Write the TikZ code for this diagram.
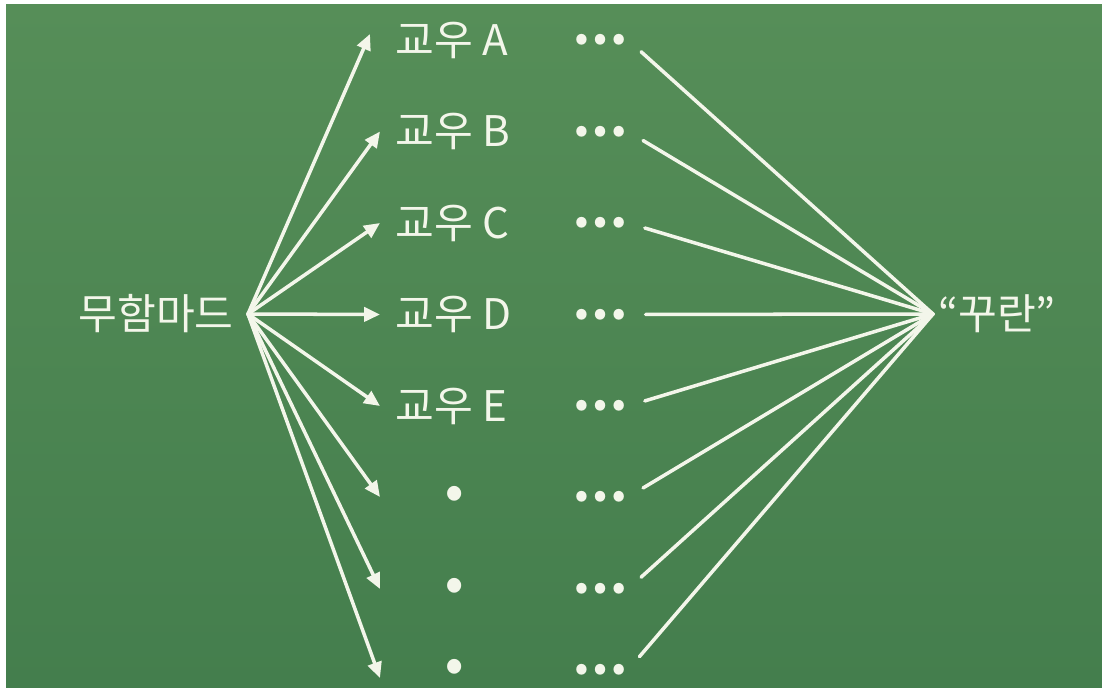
\documentclass[tikz,border=0pt]{standalone}
\usepackage{fontspec}
\newfontfamily\kofont{Noto Sans CJK KR}
\usepackage{tikz}
\usetikzlibrary{arrows.meta}
\definecolor{boardtop}{HTML}{568E58}
\definecolor{boardbot}{HTML}{447E4D}
\definecolor{chalk}{HTML}{F3F6EA}

\begin{document}
\begin{tikzpicture}[x=0.02cm, y=-0.02cm,
  every node/.style={text=chalk, font=\kofont\fontsize{24}{28}\selectfont, inner sep=0pt},
  dotsbox/.style={font=\kofont\bfseries\fontsize{28}{28}\selectfont},
  rowdot/.style={font=\kofont\bfseries\fontsize{26}{26}\selectfont},
  chalkline/.style={draw=chalk, line width=2pt, line cap=round},
  chalkarrow/.style={chalkline, -{Triangle[length=9pt, width=8pt]}}]
\fill[white] (0,0) rectangle (1102,688);
\shade[top color=boardtop, bottom color=boardbot] (6,5) rectangle (1102,688);
% left and right ends
\node[anchor=east] (src) at (234,314) {무함마드};
\coordinate (hub) at (248,314);
\node[anchor=west] (dst) at (938,314) {“꾸란”};
\coordinate (sink) at (933,314);
% named rows
\foreach \i/\lab in {1/A, 2/B, 3/C, 4/D, 5/E} {
  \pgfmathsetmacro{\yy}{40+91.5*(\i-1)}
  \node[anchor=west] (t\i) at (395,\yy) {교우 \lab};
}
% unnamed rows
\foreach \i/\yy in {6/497, 7/589, 8/670} {
  \node[rowdot] (t\i) at (455,\yy) {•};
}
% arrows in, dots, lines out
\foreach \i/\yy in {1/40, 2/131.5, 3/223, 4/314.5, 5/406, 6/497, 7/589, 8/670} {
  \node[dotsbox] (m\i) at (600,\yy) {⋯};
}
\foreach \i/\yy in {1/34, 2/131.5, 3/223, 4/314.5, 5/406, 6/497, 7/589, 8/678} {
  \coordinate (tip\i) at ({\i==1 ? 370 : 380},\yy);
}
\foreach \i in {1,...,8} {
  \draw[chalkarrow] (hub) -- (tip\i);
  \draw[chalkline, shorten <=10pt] (m\i.east) -- (sink);
}
\end{tikzpicture}
\end{document}
